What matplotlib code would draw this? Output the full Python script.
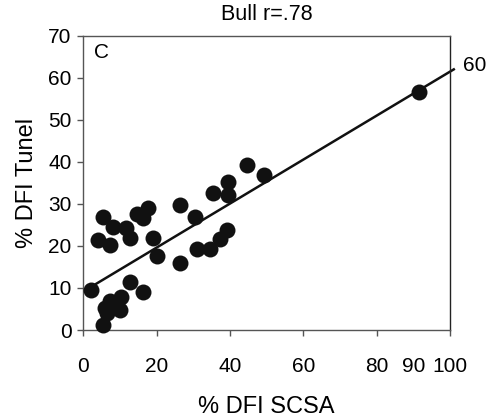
import matplotlib
matplotlib.use("Agg")
import matplotlib.pyplot as plt
import numpy as np

plt.rcParams['font.family'] = ['Liberation Sans', 'DejaVu Sans']

# % DFI SCSA (x) vs % DFI Tunel (y)
scsa = [2.0, 4.0, 5.4, 7.2, 8.1, 11.7, 12.6, 14.7, 16.4, 17.7, 19.1, 20.0,
        26.4, 26.4, 30.5, 31.1, 34.6, 35.3, 37.3, 39.1, 39.4, 39.4, 44.6, 49.3,
        12.6, 16.3, 5.3, 6.0, 7.4, 10.4, 10.0, 6.4, 8.5, 91.4]
tunel = [9.5, 21.4, 27.0, 20.2, 24.6, 24.2, 21.8, 27.6, 26.7, 29.0, 21.8, 17.5,
         29.8, 15.9, 27.0, 19.2, 19.2, 32.5, 21.6, 23.8, 32.0, 35.2, 39.3, 36.9,
         11.5, 9.1, 1.2, 5.2, 6.8, 7.9, 4.8, 4.0, 5.5, 56.7]

# regression line end points
fit_x = [2.0, 101.0]
fit_y = [10.2, 62.0]

xticks = [0, 20, 40, 60, 80, 100]
yticks = [0, 10, 20, 30, 40, 50, 60, 70]

fig = plt.figure(figsize=(4.93, 4.18), dpi=100)
ax = fig.add_axes([0.169, 0.2105, 0.744, 0.704])

ax.plot(fit_x, fit_y, color='#111111', lw=1.8, clip_on=False, zorder=2)
ax.plot(scsa, tunel, 'o', color='#111111', ms=11.5, mec='none', clip_on=False, zorder=3)

ax.set_xlim(0, 100)
ax.set_ylim(0, 70)
ax.set_xticks(xticks)
ax.set_yticks(yticks)
ax.tick_params(labelsize=15, length=4.5, width=1, color='#555555')
ax.tick_params(axis='x', pad=15)
ax.tick_params(axis='y', pad=4)
for s in ax.spines.values():
    s.set_color('#555555')
    s.set_linewidth(1)
ax.spines['right'].set_color('#222222')

ax.set_xlabel('% DFI SCSA', fontsize=17, labelpad=14)
ax.set_ylabel('% DFI Tunel', fontsize=17, labelpad=7)
ax.set_title('Bull r=.78', fontsize=15.5, pad=11)

ax.text(0.03, 0.975, 'C', transform=ax.transAxes, fontsize=15, va='top', ha='left')
ax.text(1.035, 63, '60', transform=ax.get_yaxis_transform(), fontsize=15,
        va='center', ha='left')
ax.annotate('90', xy=(90, 0), xycoords=('data', 'axes fraction'),
            xytext=(0, -19.5), textcoords='offset points',
            fontsize=15, va='top', ha='center')

fig.savefig('out.png', dpi=100)
